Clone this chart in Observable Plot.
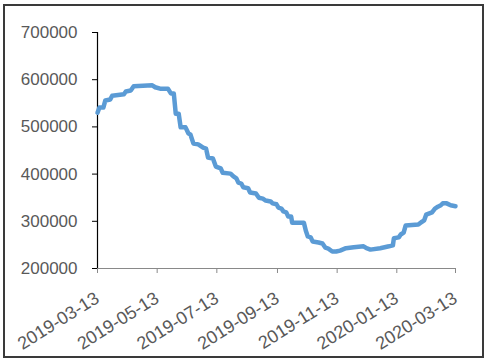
<!DOCTYPE html>
<html>
<head>
<meta charset="utf-8">
<script src="https://cdn.jsdelivr.net/npm/d3@7"></script>
<script src="https://cdn.jsdelivr.net/npm/@observablehq/plot@0.6"></script>
<style>
  html, body { margin: 0; padding: 0; background: #fff; }
  #wrap { position: relative; width: 488px; height: 362px; overflow: hidden; }
  #border { position: absolute; left: 3px; top: 4px; width: 477px; height: 350px; border: 2px solid #3a3a3a; pointer-events: none; }
  #chart { position: absolute; left: 0; top: 0; }
</style>
</head>
<body>
<div id="wrap"><div id="chart"></div><div id="border"></div></div>
<script>
const dates = [
  "2019-03-13","2019-03-15","2019-03-19","2019-03-21","2019-03-26","2019-03-28","2019-04-09","2019-04-11",
  "2019-04-16","2019-04-19","2019-05-08","2019-05-11","2019-05-16","2019-05-24","2019-05-27","2019-05-30",
  "2019-06-01","2019-06-04","2019-06-06","2019-06-11","2019-06-14","2019-06-16","2019-06-19","2019-06-24",
  "2019-06-29","2019-07-02","2019-07-04","2019-07-09","2019-07-12","2019-07-17","2019-07-19","2019-07-27",
  "2019-07-30","2019-08-02","2019-08-04","2019-08-07","2019-08-09","2019-08-14","2019-08-16","2019-08-22",
  "2019-08-25","2019-08-29","2019-09-01","2019-09-06","2019-09-08","2019-09-12","2019-09-14","2019-09-17",
  "2019-09-19","2019-09-22","2019-09-24","2019-09-27","2019-09-28","2019-10-10","2019-10-12","2019-10-14",
  "2019-10-17","2019-10-19","2019-10-25","2019-10-29","2019-11-01","2019-11-04","2019-11-08","2019-11-12",
  "2019-11-16","2019-11-22","2019-11-30","2019-12-10","2019-12-13","2019-12-17","2019-12-27","2020-01-05",
  "2020-01-09","2020-01-10","2020-01-15","2020-01-17","2020-01-20","2020-01-22","2020-02-04","2020-02-07",
  "2020-02-10","2020-02-12","2020-02-18","2020-02-21","2020-02-24","2020-02-27","2020-02-29","2020-03-04",
  "2020-03-08","2020-03-13"
];
const values = [
  530000,541000,541000,556000,558000,566000,569000,575000,
  577000,586000,588000,584000,581000,581000,571000,571000,
  528000,528000,499000,499000,486000,484000,465000,463000,
  456000,454000,435000,433000,416000,412000,403000,401000,
  395000,391000,382000,380000,372000,370000,361000,359000,
  350000,348000,344000,342000,338000,336000,329000,327000,
  321000,319000,310000,310000,297000,297000,280000,268000,
  266000,257000,255000,253000,244000,242000,236000,236000,
  238000,243000,245000,247000,243000,240000,243000,247000,
  249000,264000,266000,272000,276000,291000,293000,298000,
  302000,314000,319000,327000,331000,334000,338000,338000,
  334000,332000
];
const xTicks = ["2019-03-13","2019-05-13","2019-07-13","2019-09-13","2019-11-13","2020-01-13","2020-03-13"];
const yTicks = [200000,300000,400000,500000,600000,700000];

const data = dates.map((d, i) => ({date: new Date(d), value: values[i]}));
const xT = xTicks.map(d => new Date(d));
const x0 = xT[0], x1 = xT[xT.length - 1];

const chart = Plot.plot({
  width: 488,
  height: 362,
  marginLeft: 97,
  marginRight: 33,
  marginTop: 32,
  marginBottom: 94,
  style: {fontFamily: "'Liberation Sans', Arial, sans-serif", fontSize: "17px", background: "transparent", overflow: "visible"},
  x: {type: "utc", domain: [x0, x1]},
  y: {domain: [200000, 700000]},
  marks: [
    Plot.axisY({ticks: yTicks, tickSize: 5, tickPadding: 15, tickFormat: d3.format("d"), stroke: "#000", fill: "#595959", label: null, fontSize: 17}),
    Plot.axisX({ticks: xT, tickSize: 5, tickFormat: () => "", stroke: "#898989", label: null}),
    Plot.axisX({ticks: xT, tickSize: 0, tickPadding: 20, tickRotate: -32, dx: 0, dy: 8, tickFormat: d3.utcFormat("%Y-%m-%d"), fill: "#595959", label: null, fontSize: 18}),
    Plot.ruleY([200000], {stroke: "#898989", strokeWidth: 1.2}),
    Plot.ruleX([x0], {stroke: "#000", strokeWidth: 1.2}),
    Plot.line(data, {x: "date", y: "value", stroke: "#5B9BD5", strokeWidth: 4.5, strokeLinejoin: "round", strokeLinecap: "round"})
  ]
});
document.getElementById("chart").appendChild(chart);
</script>
</body>
</html>
